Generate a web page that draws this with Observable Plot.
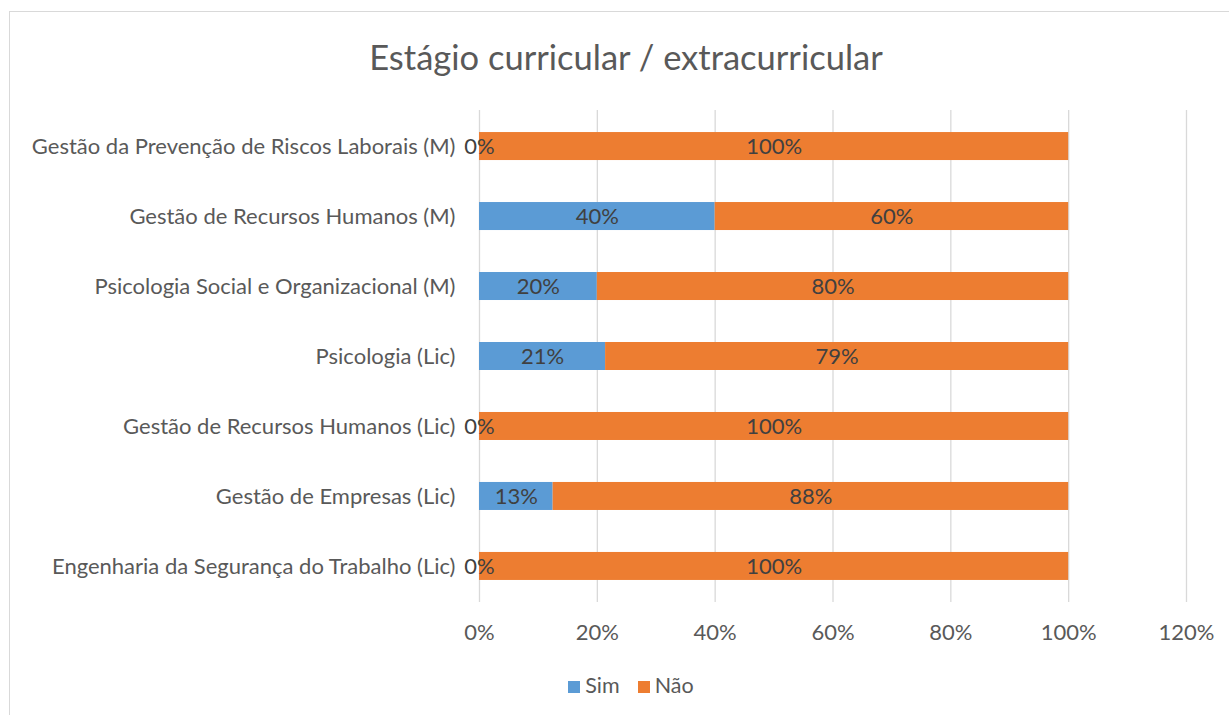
<!DOCTYPE html>
<html>
<head>
<meta charset="utf-8">
<script src="https://cdn.jsdelivr.net/npm/d3@7"></script>
<script src="https://cdn.jsdelivr.net/npm/@observablehq/plot@0.6"></script>
<style>
  html, body { margin: 0; padding: 0; background: #fff; }
  body { width: 1229px; height: 715px; position: relative; overflow: hidden; font-family: Lato, "Open Sans", sans-serif; }
  #frame { position: absolute; left: 9px; top: 11px; width: 1240px; height: 720px; border: 1.5px solid #d9d9d9; box-sizing: border-box; }
  #title { position: absolute; left: 0; width: 1252px; top: 37px; line-height: 40px; text-align: center; font-size: 34.5px; color: #595959; }
  #chart { position: absolute; left: 0; top: 0; }
  #legend { position: absolute; top: 671px; left: 0; width: 1262px; line-height: 28px; text-align: center; font-size: 21.5px; color: #595959; }
  #legend span.sw { display: inline-block; width: 12px; height: 12px; margin-right: 5px; vertical-align: 0px; }
  #legend span.item { margin: 0 9px; }
</style>
</head>
<body>
<div id="frame"></div>
<div id="title">Estágio curricular / extracurricular</div>
<div id="chart"></div>
<div id="legend"></div>
<script>
const categories = [
  "Gestão da Prevenção de Riscos Laborais (M)",
  "Gestão de Recursos Humanos (M)",
  "Psicologia Social e Organizacional (M)",
  "Psicologia (Lic)",
  "Gestão de Recursos Humanos (Lic)",
  "Gestão de Empresas (Lic)",
  "Engenharia da Segurança do Trabalho (Lic)"
];
const sim = [0, 40, 20, 21.4, 0, 12.5, 0];
const nao = [100, 60, 80, 78.6, 100, 87.5, 100];
const seriesNames = ["Sim", "Não"];
const seriesColors = ["#5B9BD5", "#ED7D31"];
const xTicks = [0, 20, 40, 60, 80, 100, 120];

const rows = [];
categories.forEach((c, i) => {
  rows.push({cat: c, serie: "Sim", value: sim[i]});
  rows.push({cat: c, serie: "Não", value: nao[i]});
});

const plot = Plot.plot({
  width: 1229,
  height: 715,
  marginLeft: 479,
  marginRight: 43,
  marginTop: 110,
  marginBottom: 113,
  style: {fontFamily: "Lato, 'Open Sans', sans-serif", fontSize: "22px", color: "#595959", background: "transparent"},
  x: {domain: [0, 120], ticks: xTicks, tickFormat: d => d + "%", tickSize: 0, tickPadding: 22, label: null, grid: false},
  y: {domain: categories, paddingInner: 0.6, paddingOuter: 0.315, round: false, tickSize: 0, tickPadding: 24, label: null},
  color: {domain: seriesNames, range: seriesColors},
  marks: [
    Plot.ruleX(xTicks, {stroke: "#d9d9d9", strokeWidth: 1.3}),
    Plot.barX(rows, Plot.stackX({x: "value", y: "cat", fill: "serie", order: seriesNames})),
    Plot.text(rows, Plot.stackX({x: "value", y: "cat", z: "serie", order: seriesNames, text: d => Math.round(d.value) + "%", fill: "#404040", fontSize: 22}))
  ]
});
document.getElementById("chart").appendChild(plot);

const legend = document.getElementById("legend");
seriesNames.forEach((n, i) => {
  const item = document.createElement("span");
  item.className = "item";
  item.innerHTML = `<span class="sw" style="background:${seriesColors[i]}"></span>${n}`;
  legend.appendChild(item);
});
</script>
</body>
</html>
